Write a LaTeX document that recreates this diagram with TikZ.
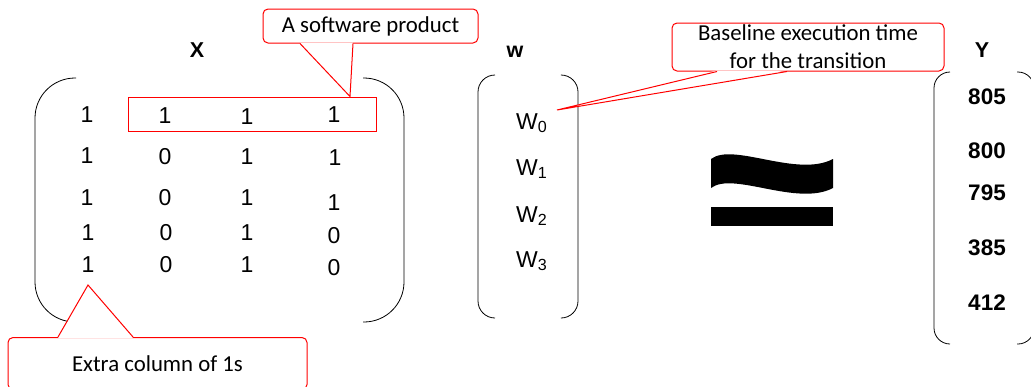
\documentclass[tikz,border=0pt]{standalone}
\usepackage{fontspec}
\setmainfont{Liberation Sans}
\newfontfamily\calfont{Carlito}
\begin{document}
\begin{tikzpicture}[x=1pt,y=-1pt,
  paren/.style={line width=0.8pt, rounded corners=#1},
  head/.style={font=\bfseries\fontsize{21.5}{25}\selectfont, inner sep=0pt},
  entry/.style={font=\fontsize{23}{27}\selectfont, inner sep=0pt},
  wentry/.style={font=\fontsize{23}{27}\selectfont, inner sep=0pt, anchor=base west},
  yentry/.style={font=\bfseries\fontsize{22.5}{26}\selectfont, inner sep=0pt},
  redline/.style={draw=red, line width=1pt},
  notebox/.style={redline, rounded corners=5pt, inner sep=0pt, align=center,
    font=\calfont\fontsize{22.8}{28}\selectfont}]
\useasboundingbox (0,0) rectangle (1031,386);
\fill[white] (0,0) rectangle (1031,386);

% column headings
\node[head] (hX) at (197,50) {X};
\node[head] (hw) at (515,52) {w};
\node[head] (hY) at (982,50) {Y};

% brackets of X
\draw[paren=40] (76,78) -- (35,78) -- (35,322) -- (76,322);
\draw[paren=40] (363,78) -- (404,78) -- (404,322) -- (363,322);
% brackets of w
\draw[paren=17] (495,75) -- (478,75) -- (478,318) -- (495,318);
\draw[paren=17] (562,75) -- (578,75) -- (578,318) -- (562,318);
% brackets of Y
\draw[paren=16] (950,72) -- (934,72) -- (934,344) -- (950,344);
\draw[paren=16] (1017,72) -- (1034,72) -- (1034,344) -- (1017,344);

% entries of X
\node[entry] (x11) at (87,115) {1};
\node[entry] (x12) at (165,116) {1};
\node[entry] (x13) at (247,117) {1};
\node[entry] (x14) at (334,115) {1};
\node[entry] (x21) at (87,156) {1};
\node[entry] (x22) at (165,157) {0};
\node[entry] (x23) at (247,157) {1};
\node[entry] (x24) at (335,158) {1};
\node[entry] (x31) at (87,198) {1};
\node[entry] (x32) at (165,198) {0};
\node[entry] (x33) at (247,198) {1};
\node[entry] (x34) at (334,203) {1};
\node[entry] (x41) at (88,233) {1};
\node[entry] (x42) at (166,233) {0};
\node[entry] (x43) at (247,233) {1};
\node[entry] (x44) at (334,236) {0};
\node[entry] (x51) at (88,265) {1};
\node[entry] (x52) at (166,265) {0};
\node[entry] (x53) at (247,265) {1};
\node[entry] (x54) at (334,268) {0};

% entries of w
\node[wentry] (w0) at (516,129) {W\textsubscript{0}};
\node[wentry] (w1) at (516,175) {W\textsubscript{1}};
\node[wentry] (w2) at (516,222) {W\textsubscript{2}};
\node[wentry] (w3) at (516,267) {W\textsubscript{3}};

% entries of Y
\node[yentry] (y1) at (987,97) {805};
\node[yentry] (y2) at (987,151) {800};
\node[yentry] (y3) at (987,193) {795};
\node[yentry] (y4) at (987,248) {385};
\node[yentry] (y5) at (987,303) {412};

% approximately-equal sign
\fill (711,159) .. controls (733,142) and (797,178) .. (833,159)
  -- (833,188) .. controls (797,207) and (733,171) .. (711,188) -- cycle;
\fill (711,207) rectangle (833,226);

% highlighted row and its note
\node[redline, minimum width=248, minimum height=34, inner sep=0pt] (prod) at (252,114) {};
\node[notebox, minimum width=215, minimum height=34] (prodnote) at (370.5,26) {A software product};
\fill[white] ([xshift=-70.5pt,yshift=1pt]prodnote.south) -- ([xshift=98pt]prod.north)
  -- ([xshift=-17.5pt,yshift=1pt]prodnote.south) -- cycle;
\draw[redline] ([xshift=-70.5pt]prodnote.south) -- ([xshift=98pt]prod.north)
  -- ([xshift=-17.5pt]prodnote.south);

% note on the first column
\coordinate (onestip) at (88,285);
\node[notebox, minimum width=299, minimum height=52, anchor=north] (onesnote) at (157.5,337) {Extra column of 1s};
\fill[white] ([xshift=-99.5pt,yshift=-1pt]onesnote.north) -- (onestip)
  -- ([xshift=-24.5pt,yshift=-1pt]onesnote.north) -- cycle;
\draw[redline] ([xshift=-99.5pt]onesnote.north) -- (onestip)
  -- ([xshift=-24.5pt]onesnote.north);

% note on the intercept weight
\coordinate (basetip) at (557,110);
\node[notebox, minimum width=272, minimum height=48] (basenote) at (808,47)
  {Baseline execution time\\for the transition};
\fill[white] ([xshift=-91pt,yshift=1pt]basenote.south) -- (basetip)
  -- ([xshift=-21pt,yshift=1pt]basenote.south) -- cycle;
\draw[redline] ([xshift=-91pt]basenote.south) -- (basetip)
  -- ([xshift=-21pt]basenote.south);
\end{tikzpicture}
\end{document}
